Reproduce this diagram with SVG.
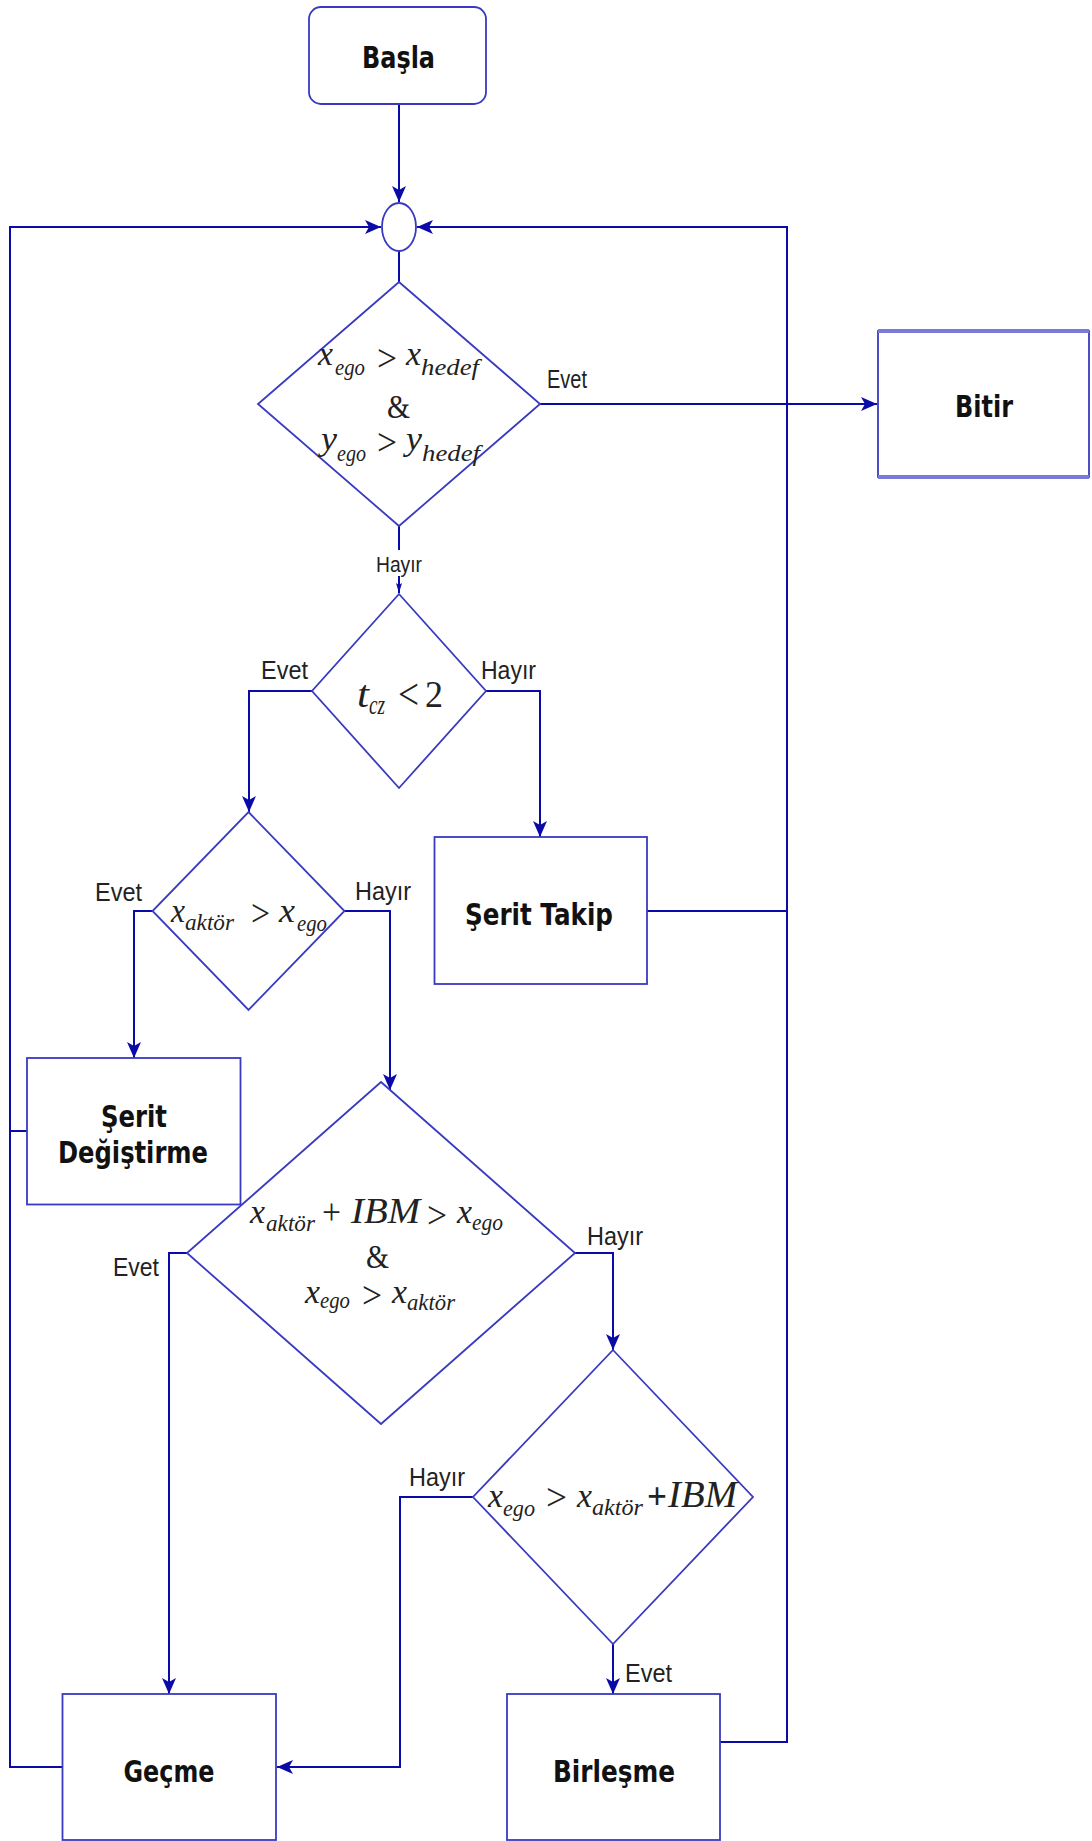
<svg xmlns="http://www.w3.org/2000/svg" width="1092" height="1841" viewBox="0 0 1092 1841">
<defs>
<style>
.shape{fill:#fff;stroke:#3a3ac0;stroke-width:1.8}
.conn{fill:none;stroke:#0a0aa8;stroke-width:2}
.box{font-family:"DejaVu Sans","Verdana",sans-serif;font-weight:bold;font-size:31px;fill:#111;text-anchor:middle}
.lbl{font-family:"Liberation Sans","Arial",sans-serif;font-size:26px;fill:#222}
.m{font-family:"Liberation Serif","Times New Roman",serif;font-style:italic;font-size:34px;fill:#222}
.s{font-family:"Liberation Serif","Times New Roman",serif;font-style:italic;font-size:24px;fill:#222}
.o{font-family:"Liberation Serif","Times New Roman",serif;font-size:32px;fill:#222}
.g{font-family:"Liberation Serif","Times New Roman",serif;font-size:38px;fill:#222}
</style>
<marker id="ah" markerUnits="userSpaceOnUse" markerWidth="18" markerHeight="16" refX="16" refY="7" orient="auto">
<path d="M0,0 L16,7 L0,14 L4,7 z" fill="#0a0aa8"/>
</marker>
<marker id="ahs" markerUnits="userSpaceOnUse" markerWidth="12" markerHeight="8" refX="10" refY="3" orient="auto">
<path d="M0,0 L10,3 L0,6 L2,3 z" fill="#0a0aa8"/>
</marker>
</defs>
<rect width="1092" height="1841" fill="#fff"/>

<g id="connectors">
<path class="conn" d="M399,105 L399,202" marker-end="url(#ah)"/>
<path class="conn" d="M62,1767 L10,1767 L10,227 L381,227" marker-end="url(#ah)"/>
<path class="conn" d="M27,1131 L10,1131"/>
<path class="conn" d="M720,1742 L787,1742 L787,227 L417,227" marker-end="url(#ah)"/>
<path class="conn" d="M647,911 L787,911"/>
<path class="conn" d="M399,251 L399,282"/>
<path class="conn" d="M540,404 L877,404" marker-end="url(#ah)"/>
<path class="conn" d="M399,526 L399,593" marker-end="url(#ahs)"/>
<path class="conn" d="M312,691 L249,691 L249,812" marker-end="url(#ah)"/>
<path class="conn" d="M486,691 L540,691 L540,837" marker-end="url(#ah)"/>
<path class="conn" d="M152.5,911 L134,911 L134,1058" marker-end="url(#ah)"/>
<path class="conn" d="M344.5,911 L390,911 L390,1090" marker-end="url(#ah)"/>
<path class="conn" d="M187,1253 L169,1253 L169,1694" marker-end="url(#ah)"/>
<path class="conn" d="M575,1253 L613,1253 L613,1350" marker-end="url(#ah)"/>
<path class="conn" d="M473,1497 L400,1497 L400,1767 L277,1767" marker-end="url(#ah)"/>
<path class="conn" d="M613,1644 L613,1694" marker-end="url(#ah)"/>
<rect x="370" y="550" width="58" height="26" fill="#fff"/>
<text class="lbl" x="547" y="388" textLength="40" lengthAdjust="spacingAndGlyphs">Evet</text>
<text class="lbl" x="399" y="572" style="font-size:22px;text-anchor:middle" textLength="46" lengthAdjust="spacingAndGlyphs">Hayır</text>
<text class="lbl" x="261" y="679" textLength="47" lengthAdjust="spacingAndGlyphs">Evet</text>
<text class="lbl" x="481" y="679" textLength="55" lengthAdjust="spacingAndGlyphs">Hayır</text>
<text class="lbl" x="95" y="901" textLength="47" lengthAdjust="spacingAndGlyphs">Evet</text>
<text class="lbl" x="355" y="900" textLength="56" lengthAdjust="spacingAndGlyphs">Hayır</text>
<text class="lbl" x="113" y="1276" textLength="46" lengthAdjust="spacingAndGlyphs">Evet</text>
<text class="lbl" x="587" y="1245" textLength="56" lengthAdjust="spacingAndGlyphs">Hayır</text>
<text class="lbl" x="409" y="1486" textLength="56" lengthAdjust="spacingAndGlyphs">Hayır</text>
<text class="lbl" x="625" y="1682" textLength="47" lengthAdjust="spacingAndGlyphs">Evet</text>
</g>

<g id="basla">
<rect class="shape" x="309" y="7" width="177" height="97" rx="12" ry="12"/>
<text class="box" x="398.5" y="68" textLength="73" lengthAdjust="spacingAndGlyphs">Başla</text>
</g>

<g id="merge">
<ellipse class="shape" cx="399" cy="227" rx="17" ry="24"/>
</g>

<g id="kosul1">
<polygon class="shape" points="399,282 540,404 399,526 258,404"/>
<text class="m" x="318" y="365" textLength="15" lengthAdjust="spacingAndGlyphs">x</text>
<text class="s" x="335" y="375" textLength="30" lengthAdjust="spacingAndGlyphs">ego</text>
<text class="g" x="377" y="371" textLength="20" lengthAdjust="spacingAndGlyphs">&gt;</text>
<text class="m" x="406" y="365" textLength="15" lengthAdjust="spacingAndGlyphs">x</text>
<text class="s" x="421" y="375" textLength="58" lengthAdjust="spacingAndGlyphs">hedef</text>
<text class="o" x="387" y="418" style="font-size:34px" textLength="23" lengthAdjust="spacingAndGlyphs">&amp;</text>
<text class="m" x="321" y="450" textLength="16" lengthAdjust="spacingAndGlyphs">y</text>
<text class="s" x="337" y="461" textLength="29" lengthAdjust="spacingAndGlyphs">ego</text>
<text class="g" x="377" y="455" textLength="20" lengthAdjust="spacingAndGlyphs">&gt;</text>
<text class="m" x="406" y="450" textLength="16" lengthAdjust="spacingAndGlyphs">y</text>
<text class="s" x="422" y="461" textLength="58" lengthAdjust="spacingAndGlyphs">hedef</text>
</g>

<g id="bitir">
<rect class="shape" x="878" y="331" width="211" height="146"/>
<line x1="878" y1="331" x2="1089" y2="331" stroke="#7a7ad8" stroke-width="4"/>
<line x1="878" y1="477" x2="1089" y2="477" stroke="#7a7ad8" stroke-width="4"/>
<text class="box" x="984" y="417" textLength="58" lengthAdjust="spacingAndGlyphs">Bitir</text>
</g>

<g id="kosul2">
<polygon class="shape" points="399,594 486,691 399,788 312,691"/>
<text class="m" x="357" y="707" style="font-size:38px" textLength="12" lengthAdjust="spacingAndGlyphs">t</text>
<text class="s" x="369" y="714" style="font-size:27px" textLength="16" lengthAdjust="spacingAndGlyphs">cz</text>
<text class="g" x="398" y="709" style="font-size:44px" textLength="21" lengthAdjust="spacingAndGlyphs">&lt;</text>
<text class="o" x="425" y="707" style="font-size:38px" textLength="18" lengthAdjust="spacingAndGlyphs">2</text>
</g>

<g id="serit-takip">
<rect class="shape" x="434.5" y="837" width="212.5" height="147"/>
<text class="box" x="539" y="925" textLength="148" lengthAdjust="spacingAndGlyphs">Şerit Takip</text>
</g>

<g id="kosul3">
<polygon class="shape" points="248.5,812 344.5,911 248.5,1010 152.5,911"/>
<text class="m" x="171" y="922" textLength="14" lengthAdjust="spacingAndGlyphs">x</text>
<text class="s" x="185" y="930" textLength="49" lengthAdjust="spacingAndGlyphs">aktör</text>
<text class="g" x="251" y="926" textLength="19" lengthAdjust="spacingAndGlyphs">&gt;</text>
<text class="m" x="279" y="922" textLength="16" lengthAdjust="spacingAndGlyphs">x</text>
<text class="s" x="297" y="931" textLength="30" lengthAdjust="spacingAndGlyphs">ego</text>
</g>

<g id="serit-degistirme">
<rect class="shape" x="27" y="1058" width="213.5" height="146.5"/>
<text class="box" x="134" y="1127" textLength="66" lengthAdjust="spacingAndGlyphs">Şerit</text>
<text class="box" x="133" y="1163" textLength="150" lengthAdjust="spacingAndGlyphs">Değiştirme</text>
</g>

<g id="kosul4">
<polygon class="shape" points="381,1082 575,1253 381,1424 187,1253"/>
<text class="m" x="250" y="1223" textLength="15" lengthAdjust="spacingAndGlyphs">x</text>
<text class="s" x="266" y="1231" textLength="49" lengthAdjust="spacingAndGlyphs">aktör</text>
<text class="o" x="322" y="1224" style="font-size:36px" textLength="19" lengthAdjust="spacingAndGlyphs">+</text>
<text class="m" x="351" y="1223" style="font-size:36px" textLength="69" lengthAdjust="spacingAndGlyphs">IBM</text>
<text class="g" x="427" y="1228" textLength="20" lengthAdjust="spacingAndGlyphs">&gt;</text>
<text class="m" x="457" y="1223" textLength="15" lengthAdjust="spacingAndGlyphs">x</text>
<text class="s" x="472" y="1230" textLength="31" lengthAdjust="spacingAndGlyphs">ego</text>
<text class="o" x="366" y="1268" style="font-size:34px" textLength="23" lengthAdjust="spacingAndGlyphs">&amp;</text>
<text class="m" x="305" y="1303" textLength="15" lengthAdjust="spacingAndGlyphs">x</text>
<text class="s" x="320" y="1308" textLength="30" lengthAdjust="spacingAndGlyphs">ego</text>
<text class="g" x="362" y="1308" textLength="20" lengthAdjust="spacingAndGlyphs">&gt;</text>
<text class="m" x="392" y="1303" textLength="15" lengthAdjust="spacingAndGlyphs">x</text>
<text class="s" x="407" y="1310" textLength="48" lengthAdjust="spacingAndGlyphs">aktör</text>
</g>

<g id="kosul5">
<polygon class="shape" points="613,1350 753,1497 613,1644 473,1497"/>
<text class="m" x="488" y="1507" textLength="15" lengthAdjust="spacingAndGlyphs">x</text>
<text class="s" x="503" y="1516" textLength="32" lengthAdjust="spacingAndGlyphs">ego</text>
<text class="g" x="546" y="1510" textLength="21" lengthAdjust="spacingAndGlyphs">&gt;</text>
<text class="m" x="577" y="1507" textLength="15" lengthAdjust="spacingAndGlyphs">x</text>
<text class="s" x="592" y="1515" textLength="51" lengthAdjust="spacingAndGlyphs">aktör</text>
<text class="o" x="647" y="1509" style="font-size:38px;font-weight:bold" textLength="20" lengthAdjust="spacingAndGlyphs">+</text>
<text class="m" x="668" y="1507" style="font-size:38px" textLength="69" lengthAdjust="spacingAndGlyphs">IBM</text>
</g>

<g id="gecme">
<rect class="shape" x="62.5" y="1694" width="213.5" height="146"/>
<text class="box" x="169" y="1782" textLength="91" lengthAdjust="spacingAndGlyphs">Geçme</text>
</g>

<g id="birlesme">
<rect class="shape" x="507" y="1694" width="213" height="146"/>
<text class="box" x="614" y="1782" textLength="122" lengthAdjust="spacingAndGlyphs">Birleşme</text>
</g>
</svg>
